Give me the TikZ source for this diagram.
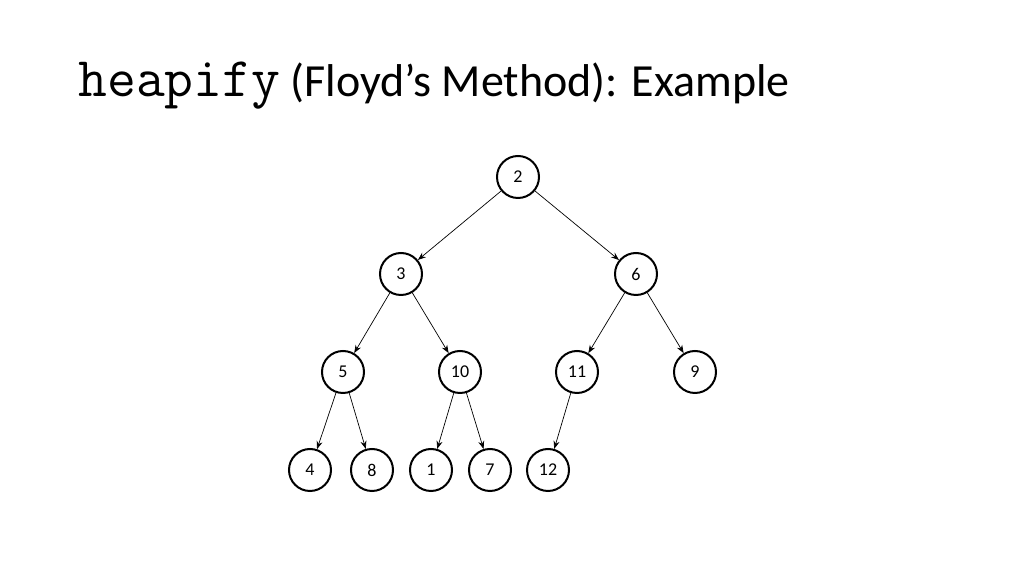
\documentclass[tikz,border=0pt]{standalone}
\usepackage{fontspec}
\setmainfont{Carlito}
\usetikzlibrary{arrows.meta}
\tikzset{
   heapnode/.style={draw=black, circle, line width=1pt, minimum size=21pt,
      inner sep=0pt, font=\fontsize{9}{10}\selectfont},
   heapedge/.style={draw=black, line width=0.35pt, -{Stealth[length=4pt,width=3pt]}},
    }
\begin{document}
\begin{tikzpicture}[x=0.5pt,y=-0.5pt]
            \useasboundingbox (0,0) rectangle (1024,576);
            \node[anchor=base west, inner sep=0pt, font=\fontsize{23}{26}\selectfont] (title) at (78,97)
               {{\fontsize{28}{28}\selectfont\ttfamily heapify} (Floyd’s Method): Example};
            \node[heapnode] (n2) at (518,177) {2};
            \node[heapnode] (n3) at (401,274) {3};
            \node[heapnode] (n6) at (636,274) {6};
            \node[heapnode] (n5) at (343,372) {5};
            \node[heapnode] (n10) at (460,372) {10};
            \node[heapnode] (n11) at (577,372) {11};
            \node[heapnode] (n9) at (695,372) {9};
            \node[heapnode] (n4) at (310,470) {4};
            \node[heapnode] (n8) at (372,470) {8};
            \node[heapnode] (n1) at (431,470) {1};
            \node[heapnode] (n7) at (490,470) {7};
            \node[heapnode] (n12) at (548,470) {12};
            \draw[heapedge](n2)to(n3);
            \draw[heapedge](n2)to(n6);
            \draw[heapedge](n3)to(n5);
            \draw[heapedge](n3)to(n10);
            \draw[heapedge](n6)to(n11);
            \draw[heapedge](n6)to(n9);
            \draw[heapedge](n5)to(n4);
            \draw[heapedge](n5)to(n8);
            \draw[heapedge](n10)to(n1);
            \draw[heapedge](n10)to(n7);
            \draw[heapedge](n11)to(n12);
        \end{tikzpicture}
\end{document}
